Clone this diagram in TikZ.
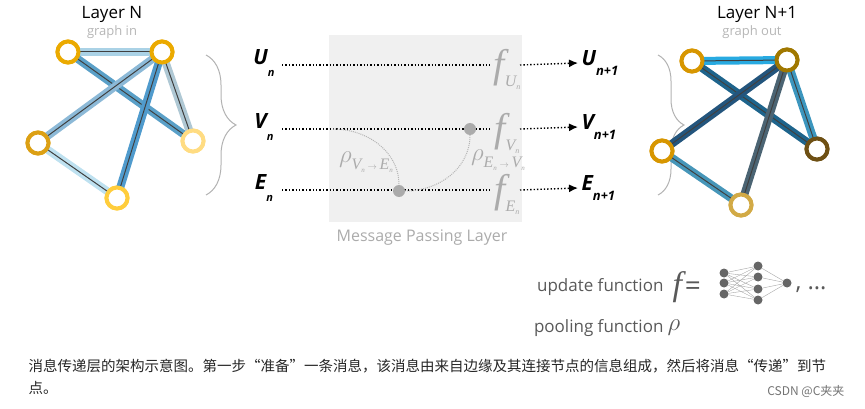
\documentclass[tikz,border=0pt]{standalone}
\usepackage{fontspec}
\setmainfont{Open Sans}
\newfontfamily\cjk{Noto Sans CJK SC}
\newfontfamily\serif{Liberation Serif}
\usetikzlibrary{arrows.meta,positioning,decorations.pathreplacing}
\definecolor{txtgray}{RGB}{150,150,150}
\definecolor{boxgray}{RGB}{240,240,240}
\definecolor{goldA}{RGB}{235,170,0}
\definecolor{goldB}{RGB}{220,160,20}
\definecolor{goldC}{RGB}{255,220,130}
\definecolor{goldD}{RGB}{255,205,60}
\definecolor{ochreA}{RGB}{215,150,0}
\definecolor{ochreB}{RGB}{160,120,0}
\definecolor{ochreC}{RGB}{110,80,20}
\definecolor{ochreD}{RGB}{210,170,70}
\newcommand{\fs}[1]{\fontsize{#1}{#1}\selectfont}
\newcommand{\fn}[1]{{\serif\itshape\fs{40}f\raisebox{-9pt}{\fs{16}#1\raisebox{-3pt}{\fs{8}n}}}}
\newcommand{\rh}[2]{{\serif\itshape\fs{40}$\rho$\raisebox{-7pt}{\fs{16}#1\raisebox{-3pt}{\fs{7}n}\,{\fs{9}$\to$}\,#2\raisebox{-3pt}{\fs{7}n}}}}
\tikzset{%
    >={Latex[length=9pt,width=8pt]},
    vert/.style={circle,draw=#1,line width=4pt,fill=white,minimum size=21pt,inner sep=0pt},
    edg/.style={line width=8pt,draw=#1},
    core/.style={line width=1pt,draw=black!75},
    flow/.style={dotted,line width=1.4pt},
    msg/.style={densely dotted,draw=txtgray!70,line width=1pt},
    dot/.style={circle,fill=txtgray!80,minimum size=12pt,inner sep=0pt},
    nn/.style={circle,fill=black!60,minimum size=9pt,inner sep=0pt},
    feat/.style={font=\fs{21}\itshape\bfseries},
    brace/.style={decorate,decoration={brace,amplitude=#1},draw=black!30,line width=1pt}
}
\begin{document}
\begin{tikzpicture}[x=1pt,y=-1pt]
\useasboundingbox (0,0) rectangle (865,409);
% layer N
\node[font=\fs{17}] at (112,14) {Layer N};
\node[text=txtgray!70,font=\fs{13}] at (112,32) {graph in};
\node[vert=goldA] (a) at (68,52) {};
\node[vert=goldA] (b) at (162,52) {};
\node[vert=goldB] (c) at (38,143) {};
\node[vert=goldC] (d) at (193,141) {};
\node[vert=goldD] (e) at (117,198) {};
\foreach \u/\v/\c in {a/b/{rgb,255:red,170;green,210;blue,230},a/d/{rgb,255:red,90;green,160;blue,200},b/c/{rgb,255:red,140;green,185;blue,215},b/e/{rgb,255:red,80;green,155;blue,205},b/d/{rgb,255:red,175;green,200;blue,212},c/e/{rgb,255:red,190;green,225;blue,240}}{
  \draw[edg=\c] (\u.center) -- (\v.center);
  \draw[core] (\u.center) -- (\v.center);
}
\foreach \n/\c in {a/goldA,b/goldA,c/goldB,d/goldC,e/goldD}
  \node[vert=\c] at (\n) {};
\draw[brace=30pt] (206,55) -- (206,195);
% message passing layer
\fill[boxgray] (329,35) rectangle (522,222);
\node[txtgray!80,font=\fs{16}] at (422,238) {Message Passing Layer};
\foreach \r/\y/\s in {U/65/U,V/129/V,E/190/E}{
  \node[feat] (\r-in) at (264,\y-2) {\s\raisebox{-1.1ex}{\fs{11}n}};
  \node[text=txtgray!80] (\r-f) at (507,\y+4) {\fn{\s}};
  \node[feat,anchor=west] (\r-out) at (578,\y-2) {\s\raisebox{-.9ex}{\fs{13}n+1}};
  \draw[flow] (282,\y) -- (490,\y);
  \draw[flow,->] (520,\y) -- (\r-out.west);
}
\node[dot] (pe) at (399,191) {};
\node[dot] (pv) at (470,129) {};
\coordinate (vsrc) at (333,129);
\draw[msg] (vsrc) to[out=0,in=90] (pe);
\draw[msg] (pe) to[out=0,in=-90] (pv);
\node[text=txtgray!80] at (366,162) {\rh{V}{E}};
\node[text=txtgray!80] at (498,160) {\rh{E}{V}};
% layer N+1
\node[font=\fs{17}] at (757,14) {Layer N+1};
\node[text=txtgray!70,font=\fs{13}] at (752,32) {graph out};
\draw[brace=26pt] (658,55) -- (658,195);
\node[vert=ochreA] (a2) at (692,61) {};
\node[vert=ochreB] (b2) at (787,60) {};
\node[vert=ochreA] (c2) at (662,151) {};
\node[vert=ochreC] (d2) at (817,149) {};
\node[vert=ochreD] (e2) at (741,205) {};
\foreach \u/\v/\c in {a2/b2/{rgb,255:red,40;green,170;blue,225},a2/d2/{rgb,255:red,30;green,100;blue,140},b2/c2/{rgb,255:red,35;green,85;blue,125},b2/e2/{rgb,255:red,75;green,100;blue,115},b2/d2/{rgb,255:red,60;green,150;blue,190},c2/e2/{rgb,255:red,70;green,150;blue,185}}{
  \draw[edg=\c] (\u.center) -- (\v.center);
  \draw[core] (\u.center) -- (\v.center);
}
\foreach \n/\c in {a2/ochreA,b2/ochreB,c2/ochreA,d2/ochreC,e2/ochreD}
  \node[vert=\c] at (\n) {};
% legend
\node[text=black!65,font=\fs{17},anchor=east] (upd) at (667,287) {update function};
\node[text=black!65,font=\fs{17},right=2pt of upd] (feq) {{\serif\itshape\fs{34}f}\,\fs{28}=};
\foreach \y [count=\i] in {273,283,294} \node[nn] (i\i) at (724,\y) {};
\foreach \y [count=\i] in {266,277,289,300} \node[nn] (h\i) at (758,\y) {};
\node[nn] (o1) at (787,283) {};
\foreach \i in {1,2,3} \foreach \j in {1,2,3,4} \draw[black!35,line width=.4pt] (i\i) -- (h\j);
\foreach \j in {1,2,3,4} \draw[black!35,line width=.4pt] (h\j) -- (o1);
\node[text=black!65,font=\fs{24},anchor=west] at (792,290) {, \ldots};
\node[text=black!65,font=\fs{17},anchor=east] (pool) at (667,328) {pooling function};
\node[text=black!65,font=\serif\itshape\fs{34},right=-3pt of pool] {$\rho$};
% caption
\node[anchor=west,font=\cjk\fs{14.5},text=black!85] at (25,366) {消息传递层的架构示意图。第一步“准备”一条消息，该消息由来自边缘及其连接节点的信息组成，然后将消息“传递”到节};
\node[anchor=west,font=\cjk\fs{14.5},text=black!85] at (25,388) {点。};
\node[anchor=east,font=\cjk\fs{12},text=black!55] at (848,392) {CSDN @C夹夹};
\end{tikzpicture}
\end{document}
